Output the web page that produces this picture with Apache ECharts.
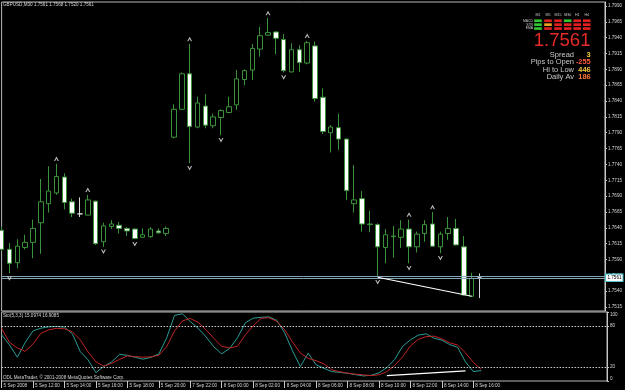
<!DOCTYPE html>
<html><head><meta charset="utf-8">
<script src="https://cdn.jsdelivr.net/npm/echarts@6/dist/echarts.min.js"></script>
<style>html,body{margin:0;padding:0;background:#000;overflow:hidden}#c{width:625px;height:390px}</style>
</head><body><div id="c"></div>
<script>
const chartTitle = 'GBPUSD,M30 1.7561 1.7568 1.7520 1.7561';
const stochTitle = 'Sto(5,3,3) 15.0974 16.9085';
const copyright = 'ODL MetaTrader, \u00a9 2001-2008 MetaQuotes Software Corp.';

const opens  = [1.7636,1.7606,1.7585,1.7609,1.7617,1.7648,1.7678,1.7695,1.7720,1.7681,1.7662,1.7660,1.7682,1.7618,1.7642,1.7644,1.7639,1.7638,1.7625,1.7626,1.7635,1.7631,
                1.7783,1.7827,1.7883,1.7799,1.7832,1.7801,1.7814,1.7822,1.7834,1.7874,1.7889,1.7922,1.7944,1.7949,1.7937,1.7886,1.7921,1.7900,1.7927,1.7846,1.7790,1.7798,
                1.7780,1.7678,1.7686,1.7645,1.7645,1.7609,1.7626,1.7625,1.7638,1.7610,1.7631,1.7646,1.7610,1.7631,1.7639,1.7610,1.7532,1.7561];
const closes = [1.7606,1.7584,1.7611,1.7617,1.7639,1.7681,1.7698,1.7721,1.7680,1.7663,1.7662,1.7684,1.7615,1.7643,1.7646,1.7639,1.7635,1.7623,1.7629,1.7638,1.7632,1.7639,
                1.7827,1.7883,1.7800,1.7837,1.7802,1.7815,1.7825,1.7831,1.7875,1.7888,1.7923,1.7943,1.7948,1.7939,1.7888,1.7921,1.7901,1.7932,1.7844,1.7792,1.7799,1.7780,
                1.7699,1.7684,1.7646,1.7646,1.7610,1.7629,1.7627,1.7638,1.7610,1.7630,1.7645,1.7611,1.7630,1.7639,1.7613,1.7534,1.7560,1.7561];
const lows   = [1.7603,1.7568,1.7576,1.7606,1.7592,1.7599,1.7664,1.7692,1.7669,1.7657,1.7657,1.7660,1.7613,1.7610,1.7638,1.7631,1.7627,1.7622,1.7624,1.7624,1.7631,1.7627,
                1.7781,1.7826,1.7742,1.7797,1.7797,1.7797,1.7786,1.7821,1.7826,1.7865,1.7873,1.7910,1.7943,1.7914,1.7885,1.7885,1.7886,1.7898,1.7839,1.7788,1.7759,1.7763,
                1.7684,1.7664,1.7634,1.7633,1.7562,1.7584,1.7593,1.7608,1.7584,1.7601,1.7618,1.7610,1.7600,1.7621,1.7612,1.7533,1.7532,1.7529];
const highs  = [1.7642,1.7616,1.7622,1.7629,1.7653,1.7717,1.7737,1.7741,1.7726,1.7686,1.7688,1.7692,1.7683,1.7648,1.7652,1.7649,1.7641,1.7639,1.7639,1.7641,1.7639,1.7642,
                1.7835,1.7885,1.7930,1.7847,1.7851,1.7820,1.7827,1.7847,1.7889,1.7890,1.7930,1.7957,1.7971,1.7950,1.7946,1.7931,1.7928,1.7935,1.7934,1.7860,1.7802,1.7820,
                1.7781,1.7739,1.7698,1.7667,1.7647,1.7638,1.7643,1.7652,1.7653,1.7634,1.7652,1.7665,1.7634,1.7657,1.7654,1.7627,1.7569,1.7568];

const stochMain   = [66.9,52.4,34.5,55.7,72.7,76.5,78.5,79,78,68.4,42.7,30.6,12.2,21.2,27.7,38.6,37.2,34.3,31.6,34.3,39.3,62.6,
                     95.2,97.4,86.2,76.3,64,49.5,39.3,47.3,62.6,84.3,91.1,92.3,93,87.8,69.8,43.7,20.9,40.3,23.4,18.3,13.6,12.5,
                     11.3,9.3,7.4,8.3,11.8,19.3,31.3,50.2,59.7,66.5,68.4,62,59.2,52.8,48.8,27.7,13.6,15.1];
const stochSignal = [76.3,56,48,43,53.8,69.1,74.2,76.3,75.6,71.3,59.7,42.2,27.7,21.5,25.5,31.3,36.4,35.4,34.5,35,37.2,49.9,
                     72.7,87.2,90.6,85,74.2,61.8,50.2,48,50.2,66.9,80,90.9,91.6,86.5,74.2,56.7,40.3,32.8,29.5,24.8,16.1,13.5,
                     11.3,9.9,8.9,7.8,8.9,13.5,22.6,35,50.9,60.4,64.3,65,61.1,55.3,52.1,40.8,27,16.9];

const timeTickLabels = ['5 Sep 2008','5 Sep 12:00','5 Sep 14:00','5 Sep 16:00','5 Sep 18:00','5 Sep 20:00','7 Sep 22:00','8 Sep 00:00',
                        '8 Sep 02:00','8 Sep 04:00','8 Sep 06:00','8 Sep 08:00','8 Sep 10:00','8 Sep 12:00','8 Sep 14:00','8 Sep 16:00'];
const priceTicks = [1.7515,1.7540,1.7565,1.7590,1.7615,1.7640,1.7665,1.7690,1.7715,1.7740,1.7765,1.7790,1.7815,1.7840,1.7865,1.7890,1.7915,1.7940,1.7965,1.7990];
const stochTicks = [0,20,80,100];
const stochLevels = [20,80];
const fractalUp = [7,11,24,34,39,52,55];
const fractalDown = [1,13,17,24,28,36,48,52,56];
const bidPrice = 1.7561, askPrice = 1.7564;
const priceDivergenceBars = [48,60];
const stochDivergence = [[49,7.8],[59,14.7]];
const whiteLineBars = [10,61];
const totalSlots = 78;

const tfNames = ['M1','M5','M15','M30','H1','H4'];
const rowNames = ['MACD','STR','EMA'];
const signalGrid = [
  ['g','r','r','g','r','r'],
  ['g','o','r','r','r','r'],
  ['g','r','r','r','r','r']];
const bigPrice = '1.7561';
const infoRows = [['Spread','3','#f2d23a'],['Pips to Open','-255','#ff5a3a'],['Hi to Low','446','#f7c43a'],['Daily Av','186','#ff7a3a']];

const FONT = 'Liberation Sans, Arial, sans-serif';
const GREEN = '#3a933a';
const AXC = '#c8c8c8';

const cats = Array.from({length: totalSlots}, (_, i) => String(i));
const candleData = opens.map((o, i) => {
  const d = {value: [o, closes[i], lows[i], highs[i]]};
  if (whiteLineBars.includes(i)) d.itemStyle = {borderColor: '#d8d8d8', borderColor0: '#d8d8d8', borderColorDoji: '#d8d8d8', color: '#d8d8d8', color0: '#d8d8d8'};
  return d;
});

const chevUp = 'path://M0,6 L3,0 L6,6 L4.6,6 L3,3 L1.4,6 Z';
const chevDown = 'path://M0,0 L3,6 L6,0 L4.6,0 L3,3 L1.4,0 Z';

const graphics = [];
graphics.push({type:'text', left: 3, top: 2.5, style:{text: chartTitle, fill:'#d8d8d8', font: '4.6px ' + FONT}});
graphics.push({type:'text', left: 3, top: 313.5, style:{text: stochTitle, fill:'#d8d8d8', font: '4.6px ' + FONT}});
graphics.push({type:'text', left: 3, top: 375, style:{text: copyright, fill:'#d8d8d8', font: '4.6px ' + FONT}});
const colX = [538, 548, 558, 567.7, 577.2, 586.7];
const colorMap = {g:'#2ec82e', r:'#e02020', o:'#e8a020'};
tfNames.forEach((n, j) => graphics.push({type:'text', x: colX[j], y: 15, style:{text:n, fill:'#c8c8c8', font:'3.6px ' + FONT, textAlign:'center', textVerticalAlign:'middle'}}));
rowNames.forEach((n, r) => {
  graphics.push({type:'text', x: 533, y: 20.7 + r*3.9, style:{text:n, fill:'#c8c8c8', font:'3.4px ' + FONT, textAlign:'right', textVerticalAlign:'middle'}});
  signalGrid[r].forEach((c, j) => graphics.push({type:'rect', shape:{x: colX[j]-3.8, y: 19.4 + r*3.9, width: 7.6, height: 2.7}, style:{fill: colorMap[c]}}));
});
graphics.push({type:'text', x: 590.5, y: 41, style:{text: bigPrice, fill:'#e42a2a', font:'18.6px ' + FONT, textAlign:'right', textVerticalAlign:'middle'}});
infoRows.forEach((r, k) => {
  graphics.push({type:'text', x: 574, y: 55.2 + k*7.2, style:{text:r[0], fill:'#c8c8c8', font:'7.5px ' + FONT, textAlign:'right', textVerticalAlign:'middle'}});
  graphics.push({type:'text', x: 590.7, y: 55.2 + k*7.2, style:{text:r[1], fill:r[2], font:'bold 7.4px ' + FONT, textAlign:'right', textVerticalAlign:'middle'}});
});

const chart = echarts.init(document.getElementById('c'), null, {renderer:'canvas'});
chart.setOption({
  animation: false,
  backgroundColor: '#000',
  grid: [
    {left: 1.6, right: 18, top: 2, height: 309, show: true, borderColor: '#b8b8b8', borderWidth: 1, backgroundColor: '#000'},
    {left: 1.6, right: 18, top: 312, height: 69, show: true, borderColor: '#b8b8b8', borderWidth: 1, backgroundColor: '#000'}
  ],
  xAxis: [
    {type:'category', gridIndex:0, data: cats, boundaryGap:false, axisLine:{show:false}, axisTick:{show:false}, axisLabel:{show:false}, splitLine:{show:false}},
    {type:'category', gridIndex:1, data: cats, boundaryGap:false, axisLine:{show:false},
     axisTick:{show:true, interval:(i)=> i%4===0 && i/4 < timeTickLabels.length, length:7, lineStyle:{color:AXC}},
     axisLabel:{show:true, interval:(i)=> i%4===0 && i/4 < timeTickLabels.length, formatter:(v, i)=> timeTickLabels[i/4] || '', align:'left', padding:[0,0,0,2], margin:2.5, color:'#d8d8d8', fontSize:4.6, fontFamily: FONT},
     splitLine:{show:false}}
  ],
  yAxis: [
    {type:'value', gridIndex:0, position:'right', min:1.75087, max:1.79963, scale:true,
     axisLine:{show:true, lineStyle:{color:AXC}}, axisTick:{show:true, customValues: priceTicks, length:2, lineStyle:{color:AXC}},
     axisLabel:{show:true, customValues: priceTicks, formatter:(v)=> v.toFixed(4), color:'#d8d8d8', fontSize:4.6, fontFamily: FONT, margin:3},
     splitLine:{show:false}},
    {type:'value', gridIndex:1, position:'right', min:0, max:100,
     axisLine:{show:true, lineStyle:{color:AXC}}, axisTick:{show:true, customValues: stochTicks, length:2, lineStyle:{color:AXC}},
     axisLabel:{show:true, customValues: stochTicks, color:'#d8d8d8', fontSize:4.6, fontFamily: FONT, margin:3, verticalAlignMaxLabel:'top', verticalAlignMinLabel:'bottom'},
     splitLine:{show:false}}
  ],
  graphic: graphics,
  series: [
    {type:'candlestick', xAxisIndex:0, yAxisIndex:0, data: candleData, barWidth: 5,
     itemStyle:{color:'#000', color0:'#fff', borderColor: GREEN, borderColor0: GREEN, borderColorDoji: GREEN, borderWidth:1}},
    {type:'scatter', xAxisIndex:0, yAxisIndex:0, data: fractalUp.map(i => [i, highs[i]]), symbol: chevUp, symbolSize:[5,4.5], symbolOffset:[0,-5], itemStyle:{color:'#e8e8e8'}, z:5},
    {type:'scatter', xAxisIndex:0, yAxisIndex:0, data: fractalDown.map(i => [i, lows[i]]), symbol: chevDown, symbolSize:[5,4.5], symbolOffset:[0,5], itemStyle:{color:'#e8e8e8'}, z:5},
    {type:'line', xAxisIndex:0, yAxisIndex:0, data: priceDivergenceBars.map(i => [i, lows[i]]), symbol:'none', lineStyle:{color:'#fff', width:1.2}, z:6,
     markLine:{silent:true, symbol:['none','none'], animation:false, precision:4,
       data:[
         {yAxis: askPrice, lineStyle:{color:'#86a3b3', width:1, type:'solid'}, label:{show:false}},
         {yAxis: bidPrice, lineStyle:{color:'#86a3b3', width:1, type:'solid'},
          label:{show:true, position:'end', distance:1, formatter: bidPrice.toFixed(4), color:'#000', backgroundColor:'#fff', borderColor:'#40c0c8', borderWidth:1, padding:[1,1,0.5,1.5], fontSize:4.6, fontFamily: FONT}}
       ]}},
    {type:'line', xAxisIndex:1, yAxisIndex:1, data: stochMain, symbol:'none', lineStyle:{color:'#2c9c96', width:1},
     markLine:{silent:true, symbol:['none','none'], label:{show:false}, lineStyle:{color:'#d0d0d0', width:1, type:[1.5,1.5]}, data: stochLevels.map(v => ({yAxis:v}))}},
    {type:'line', xAxisIndex:1, yAxisIndex:1, data: stochSignal, symbol:'none', lineStyle:{color:'#c02424', width:1}},
    {type:'line', xAxisIndex:1, yAxisIndex:1, data: stochDivergence, symbol:'none', lineStyle:{color:'#fff', width:1.4}, z:6}
  ]
});
</script>
</body></html>
